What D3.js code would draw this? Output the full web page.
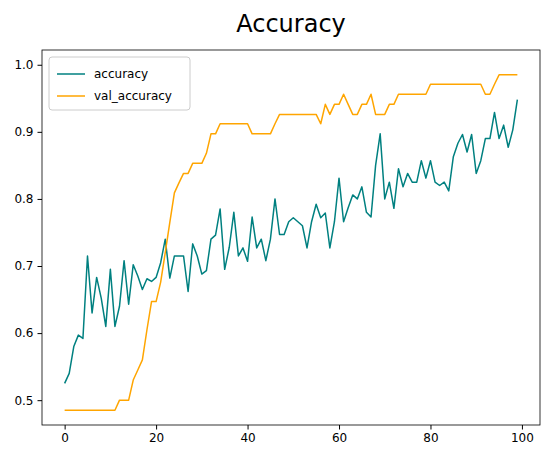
<!DOCTYPE html>
<html><head><meta charset="utf-8">
<script src="https://cdn.jsdelivr.net/npm/d3@7"></script>
<style>body{margin:0;background:#fff;font-family:"DejaVu Sans",sans-serif}</style>
</head><body><svg id="chart" width="547" height="461"></svg>
<script>
// values
var accuracy = [0.525,0.54,0.58,0.597,0.592,0.715,0.63,0.683,0.652,0.61,0.695,0.61,0.64,0.708,0.643,0.702,0.685,0.665,0.681,0.677,
  0.683,0.705,0.74,0.682,0.715,0.715,0.715,0.662,0.733,0.715,0.688,0.693,0.74,0.746,0.785,0.695,0.728,0.78,0.715,0.727,
  0.707,0.773,0.727,0.74,0.708,0.74,0.8,0.747,0.747,0.766,0.772,0.766,0.76,0.727,0.766,0.792,0.772,0.779,0.727,0.766,
  0.831,0.766,0.787,0.806,0.8,0.818,0.78,0.773,0.85,0.897,0.8,0.825,0.786,0.845,0.818,0.838,0.825,0.825,0.857,0.831,
  0.857,0.825,0.82,0.825,0.812,0.863,0.883,0.896,0.87,0.896,0.838,0.857,0.89,0.89,0.929,0.89,0.91,0.877,0.903,0.948];
var val_accuracy = [0.485,0.485,0.485,0.485,0.485,0.485,0.485,0.485,0.485,0.485,0.485,0.485,0.5,0.5,0.5,0.53,0.545,0.56,0.605,0.647,
  0.647,0.676,0.72,0.765,0.809,0.824,0.838,0.838,0.853,0.853,0.853,0.868,0.897,0.897,0.912,0.912,0.912,0.912,0.912,0.912,
  0.912,0.897,0.897,0.897,0.897,0.897,0.912,0.926,0.926,0.926,0.926,0.926,0.926,0.926,0.926,0.926,0.912,0.941,0.926,0.941,
  0.941,0.956,0.941,0.926,0.926,0.941,0.941,0.956,0.926,0.926,0.926,0.941,0.941,0.956,0.956,0.956,0.956,0.956,0.956,0.956,
  0.971,0.971,0.971,0.971,0.971,0.971,0.971,0.971,0.971,0.971,0.971,0.971,0.956,0.956,0.971,0.985,0.985,0.985,0.985,0.985];
var xTicks = [0,20,40,60,80,100];
var yTicks = [0.5,0.6,0.7,0.8,0.9,1.0];
var seriesNames = ["accuracy","val_accuracy"];
var seriesColors = ["#008080","#FFA500"];

var svg = d3.select("#chart");
var mLeft = 42, mRight = 540, mTop = 50, mBottom = 425;
var x = d3.scaleLinear().domain([-4.95,103.95]).range([mLeft,mRight]);
var y = d3.scaleLinear().domain([0.463,1.022]).range([mBottom,mTop]);

svg.append("text").attr("x",(mLeft+mRight)/2).attr("y",32).attr("text-anchor","middle")
  .style("font-size","24px").text("Accuracy");

var xAxis = svg.append("g").attr("transform","translate(0,"+mBottom+")")
  .call(d3.axisBottom(x).tickValues(xTicks).tickSize(4.5).tickPadding(4).tickFormat(d3.format("d")));
var yAxis = svg.append("g").attr("transform","translate("+mLeft+",0)")
  .call(d3.axisLeft(y).tickValues(yTicks).tickSize(4.5).tickPadding(4).tickFormat(d3.format(".1f")));
[xAxis,yAxis].forEach(function(a){
  a.select(".domain").remove();
  a.selectAll("text").style("font-size","12px").style("font-family","DejaVu Sans").attr("fill","#000");
  a.selectAll("line").attr("stroke","#000");
});

var line = d3.line().x(function(d,i){return x(i);}).y(function(d){return y(d);});
[accuracy,val_accuracy].forEach(function(s,k){
  svg.append("path").datum(s).attr("d",line).attr("fill","none")
    .attr("stroke",seriesColors[k]).attr("stroke-width",1.5).attr("stroke-linejoin","round");
});

svg.append("rect").attr("x",mLeft).attr("y",mTop).attr("width",mRight-mLeft).attr("height",mBottom-mTop)
  .attr("fill","none").attr("stroke","#000").attr("stroke-width",0.8);

// legend
var lg = svg.append("g").attr("transform","translate(49,57)");
lg.append("rect").attr("width",141).attr("height",53).attr("rx",3).attr("fill","#fff")
  .attr("fill-opacity",0.8).attr("stroke","#ccc");
seriesNames.forEach(function(n,i){
  var yy = 17 + i*22;
  lg.append("line").attr("x1",8).attr("x2",36).attr("y1",yy).attr("y2",yy)
    .attr("stroke",seriesColors[i]).attr("stroke-width",1.5);
  lg.append("text").attr("x",45).attr("y",yy+4).style("font-size","12px").text(n);
});
</script></body></html>
